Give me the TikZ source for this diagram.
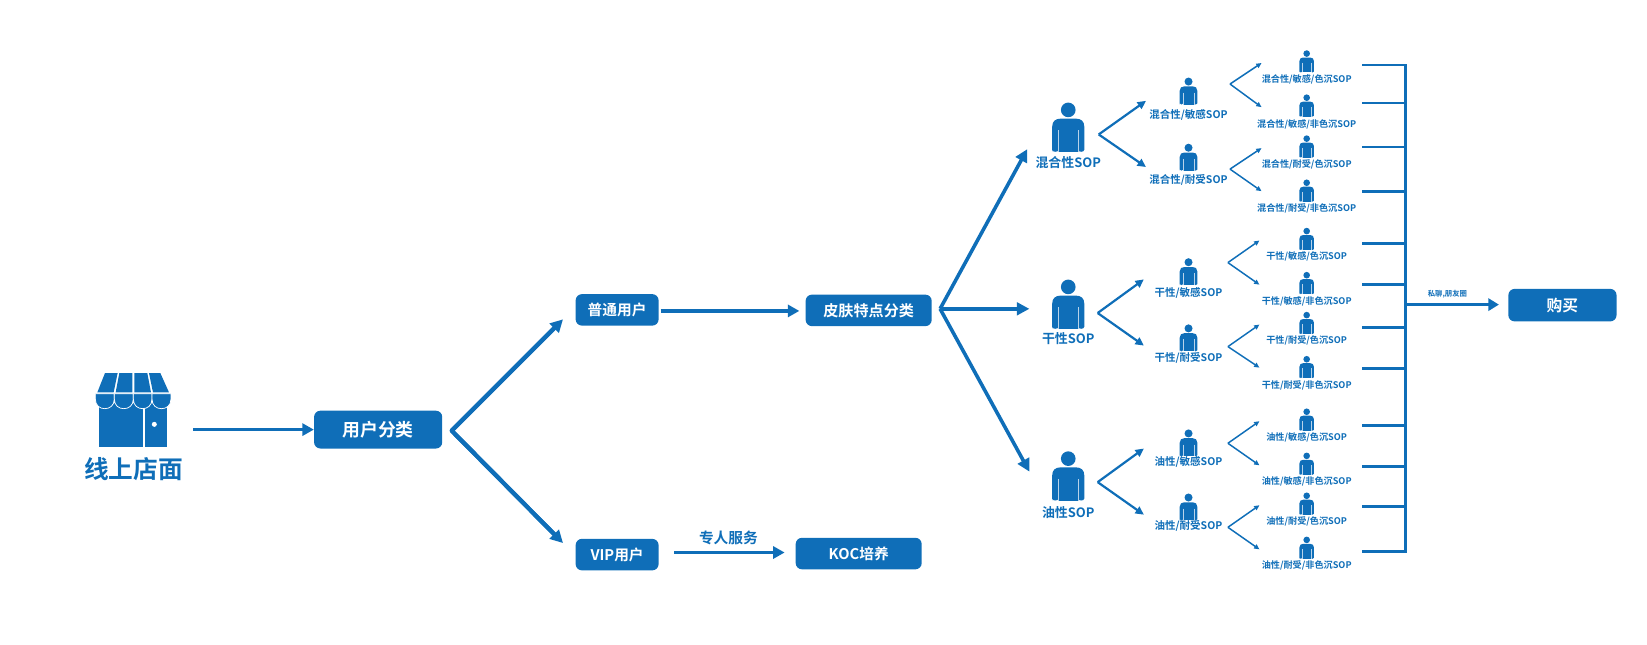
\documentclass[tikz,border=0pt]{standalone}
\usepackage{fontspec}
\setmainfont{Noto Sans CJK SC Bold}
\usetikzlibrary{arrows.meta,calc}
\definecolor{brand}{HTML}{0F6EB8}
\tikzset{
  boxnode/.style={fill=brand,rounded corners=6pt,text=white,inner sep=0pt,align=center},
  lab/.style={text=brand,inner sep=0pt,align=center},
  conn/.style={draw=brand,line width=3.4pt,-{Triangle[length=11pt,width=11.5pt]}},
  conna/.style={draw=brand,line width=4pt,-{Triangle[length=12pt,width=12pt]}},
  connb/.style={draw=brand,line width=3.4pt,-{Triangle[length=12pt,width=12pt]}},
  connc/.style={draw=brand,line width=2.1pt,-{Triangle[length=8pt,width=7.5pt]}},
  connd/.style={draw=brand,line width=1.4pt,-{Triangle[length=5pt,width=4.5pt]}},
  rail/.style={draw=brand,line width=2.6pt}
}
% person icon: #1 centre x, #2 top y, #3 height, #4 white line width
\newcommand{\personicon}[4]{%
  \begin{scope}[shift={(#1,#2)},scale=#3/140]
    \fill[brand] (0,20) circle (21);
    \fill[brand] (-46,140) -- (-46,68) .. controls (-46,52) and (-36,45) .. (-22,45)
      -- (22,45) .. controls (36,45) and (46,52) .. (46,68) -- (46,134)
      .. controls (46,142) and (28,142) .. (28,134) -- (-28,134)
      .. controls (-28,142) and (-46,142) .. (-46,134) -- cycle;
    \fill[brand] (-28,100) rectangle (28,140);
    \draw[white!70!brand,line width=#4] (-28,78) -- (-28,140) (28,78) -- (28,140);
  \end{scope}}
% leaf: name, x, top y, icon height, text size, label y, label
\newcommand{\leaf}[7]{%
  \personicon{#2}{#3}{#4}{0.2pt}
  \node[lab,font=\fontsize{#5}{#5}\selectfont] (#1) at (#2,#6) {#7};}
\begin{document}
\begin{tikzpicture}[x=1pt,y=-1pt]
\useasboundingbox (0,0) rectangle (1568,614);
% store icon
\begin{scope}[shift={(66.64,323.7)},scale=0.3173]
  \fill[brand] (86,190) rectangle (290,320);
  \draw[white,line width=1pt] (222,200) -- (222,320);
  \fill[white] (253,253) circle (7.5);
  \fill[brand] (105,99) -- (143,99) -- (131,157) -- (82,157) -- cycle;
  \fill[brand] (148,99) -- (187,99) -- (187,157) -- (137,157) -- cycle;
  \fill[brand] (193,99) -- (232,99) -- (243,157) -- (193,157) -- cycle;
  \fill[brand] (237,99) -- (271,99) -- (297,157) -- (249,157) -- cycle;
  \foreach \a/\b in {76/133,133/190,190/246,246/303}{
    \filldraw[fill=brand,draw=white,line width=0.7pt] (\a,161) -- (\b,161) -- (\b,177) .. controls (\b,197) and (\b-14,206) .. ({(\a+\b)/2},206) .. controls (\a+14,206) and (\a,197) .. (\a,177) -- cycle;
  }
\end{scope}
\node[lab,font=\fontsize{23.5}{23.5}\selectfont] (store) at (127,447) {线上店面};
\coordinate (storeR) at (184,409);
% main boxes
\node[boxnode,minimum width=122pt,minimum height=36pt,font=\fontsize{17}{17}\selectfont] (classify) at (360,409) {用户分类};
\node[boxnode,minimum width=79pt,minimum height=30pt,font=\fontsize{14}{14}\selectfont] (normal) at (587.5,295) {普通用户};
\node[boxnode,minimum width=120pt,minimum height=30pt,font=\fontsize{14.4}{14.4}\selectfont] (skin) at (827,295.5) {皮肤特点分类};
\node[boxnode,minimum width=79pt,minimum height=30pt,font=\fontsize{14}{14}\selectfont] (vip) at (587.5,528) {VIP用户};
\node[boxnode,minimum width=120pt,minimum height=30pt,font=\fontsize{14}{14}\selectfont] (koc) at (817.5,527) {KOC培养};
\node[boxnode,minimum width=103pt,minimum height=31pt,font=\fontsize{15}{15}\selectfont] (buy) at (1487.5,290.5) {购买};
\draw[conn] (storeR) -- (classify.west);
\coordinate (fork1) at (430,410);
\coordinate (normalIn) at (536,304);
\coordinate (vipIn) at (536,517);
\draw[draw=brand,line width=4pt,line join=round] ($(normalIn)+(-5,5)$) -- (fork1) -- ($(vipIn)+(-5,-5)$);
\draw[conna] (fork1) -- (normalIn);
\draw[conna] (fork1) -- (vipIn);
\coordinate (normalOut) at (629,296);
\coordinate (skinIn) at (761,296);
\draw[conn] (normalOut) -- (skinIn);
\coordinate (vipOut) at (642,526);
\coordinate (kocIn) at (747,526);
\draw[conn] (vipOut) -- (kocIn);
\node[lab,font=\fontsize{14}{14}\selectfont] (svc) at (693.5,512.5) {专人服务};
% big persons
\personicon{1017}{98}{46.5}{0.4pt}
\personicon{1017}{266.5}{46.5}{0.4pt}
\personicon{1017}{430}{46.5}{0.4pt}
\node[lab,font=\fontsize{12.3}{12.3}\selectfont] (mix) at (1017,155) {混合性SOP};
\node[lab,font=\fontsize{12.3}{12.3}\selectfont] (dry) at (1017,322) {干性SOP};
\node[lab,font=\fontsize{12.3}{12.3}\selectfont] (oil) at (1017,488) {油性SOP};
\coordinate (fork2) at (895,294);
\coordinate (mixIn) at (978,142);
\coordinate (dryIn) at (980,294);
\coordinate (oilIn) at (980,449);
\draw[connb] (fork2) -- (mixIn);
\draw[connb] (fork2) -- (dryIn);
\draw[connb] (fork2) -- (oilIn);
% second level
\foreach \n/\xa/\xb/\y in {m/1046/1091/128,d/1045/1089/298,o/1045/1089/459}{
  \coordinate (f\n) at (\xa,\y);
  \coordinate (f\n a) at (\xb,\y-32);
  \coordinate (f\n b) at (\xb,\y+31);
  \draw[connc] (f\n) -- (f\n a);
  \draw[connc] (f\n) -- (f\n b);
}
\leaf{ma}{1131.5}{74}{25.5}{10}{109}{混合性/敏感SOP}
\leaf{mb}{1131.5}{137}{25.5}{10}{171}{混合性/耐受SOP}
\leaf{da}{1131.5}{246}{25.5}{10}{279}{干性/敏感SOP}
\leaf{db}{1131.5}{309}{25.5}{10}{341}{干性/耐受SOP}
\leaf{oa}{1131.5}{409}{25.5}{10}{440}{油性/敏感SOP}
\leaf{ob}{1131.5}{470}{25.5}{10}{501}{油性/耐受SOP}
% third level
\foreach \n/\xa/\y/\ya/\yb in {g1/1171/80/60/102,g2/1171/161/141/182,g3/1169/250/229/271,g4/1169/330/309/350,g5/1169/422/401/443,g6/1169/502/481/523}{
  \coordinate (\n) at (\xa,\y);
  \coordinate (\n a) at (\xa+30,\ya);
  \coordinate (\n b) at (\xa+30,\yb);
  \draw[connd] (\n) -- (\n a);
  \draw[connd] (\n) -- (\n b);
}
\leaf{t1}{1244}{48}{21}{8.7}{76}{混合性/敏感/色沉SOP}
\leaf{t2}{1244}{90}{21}{8.7}{118}{混合性/敏感/非色沉SOP}
\leaf{t3}{1244}{129}{21}{8.7}{156.5}{混合性/耐受/色沉SOP}
\leaf{t4}{1244}{171}{21}{8.7}{198.5}{混合性/耐受/非色沉SOP}
\leaf{t5}{1244}{217}{21}{8.7}{244.5}{干性/敏感/色沉SOP}
\leaf{t6}{1244}{259}{21}{8.7}{286.5}{干性/敏感/非色沉SOP}
\leaf{t7}{1244}{297}{21}{8.7}{324.5}{干性/耐受/色沉SOP}
\leaf{t8}{1244}{339}{21}{8.7}{366.5}{干性/耐受/非色沉SOP}
\leaf{t9}{1244}{389}{21}{8.7}{416}{油性/敏感/色沉SOP}
\leaf{t10}{1244}{431}{21}{8.7}{458}{油性/敏感/非色沉SOP}
\leaf{t11}{1244}{469}{21}{8.7}{496}{油性/耐受/色沉SOP}
\leaf{t12}{1244}{511}{21}{8.7}{538}{油性/耐受/非色沉SOP}
% bracket
\foreach \i/\y in {1/62,2/98,3/140,4/182,5/232,6/271,7/312,8/351,9/405,10/444,11/482,12/525}{
  \coordinate (s\i) at (1297,\y);
  \coordinate (e\i) at (1338,\y);
  \draw[rail] (s\i) -- (e\i);
}
\draw[rail,line cap=rect] (e1) -- (e12);
\coordinate (merge) at (1338,290);
\coordinate (buyIn) at (1427,290);
\draw[draw=brand,line width=3pt,-{Triangle[length=10pt,width=11.5pt]}] (merge) -- (buyIn);
\node[lab,font=\fontsize{7}{7}\selectfont] (chat) at (1378,280) {私聊,朋友圈};
\end{tikzpicture}
\end{document}
